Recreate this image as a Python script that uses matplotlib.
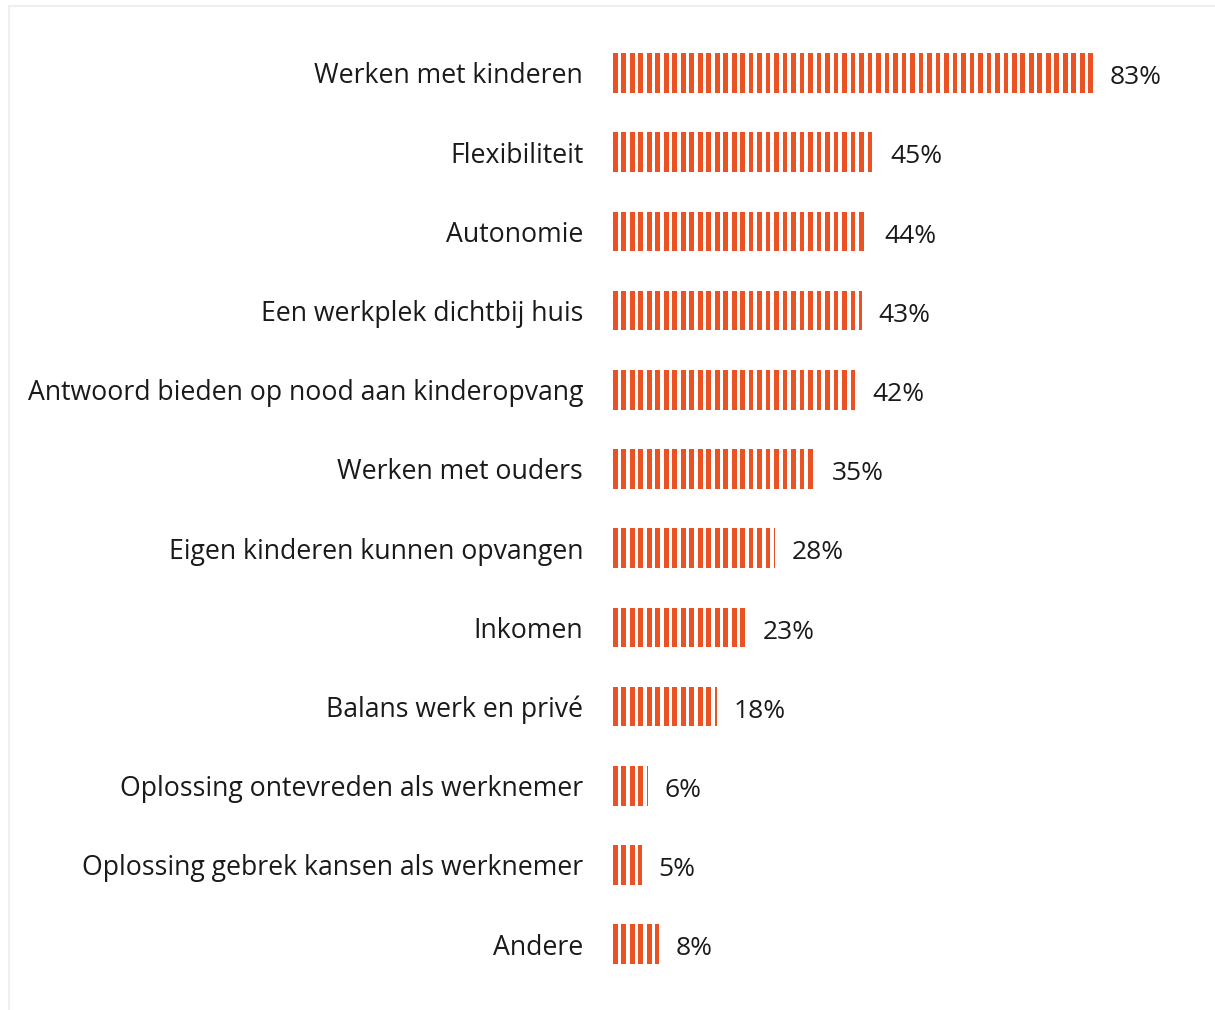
import matplotlib
matplotlib.use("Agg")
import matplotlib.pyplot as plt
import numpy as np
from matplotlib.patches import Rectangle

categories = [
    "Werken met kinderen",
    "Flexibiliteit",
    "Autonomie",
    "Een werkplek dichtbij huis",
    "Antwoord bieden op nood aan kinderopvang",
    "Werken met ouders",
    "Eigen kinderen kunnen opvangen",
    "Inkomen",
    "Balans werk en privé",
    "Oplossing ontevreden als werknemer",
    "Oplossing gebrek kansen als werknemer",
    "Andere",
]
values = [83, 45, 44, 43, 42, 35, 28, 23, 18, 6, 5, 8]

ORANGE = "#ea5223"
TEXT = "#1a1a1a"
STRIPE_STEP = 1.468   # stripe period, in % units
STRIPE_W = 0.807      # stripe width, in % units

plt.rcParams["font.family"] = ["Open Sans", "DejaVu Sans"]

fig = plt.figure(figsize=(12.15, 10.10), dpi=100)
# light frame around the chart area
fig.patches.append(Rectangle((9 / 1215, -0.01), 1.1, 1 - 6 / 1010 + 0.01,
                             transform=fig.transFigure, facecolor="white",
                             edgecolor="#eeeeee", linewidth=1.5, zorder=-1))

ax = fig.add_axes([613 / 1215, 0.026, 1 - 613 / 1215, 0.941])
ax.set_zorder(2)
ax.set_facecolor("none")

y = list(range(len(categories)))
for yi, v in zip(y, values):
    # striped bar: vertical stripes clipped at the value
    starts = np.arange(0, v, STRIPE_STEP)
    widths = np.minimum(STRIPE_W, v - starts)
    ax.barh([yi] * len(starts), widths, left=starts, height=0.5,
            color=ORANGE, linewidth=0)
    ax.text(v + 2.9, yi + 0.06, f"{v}%", va="center", ha="left",
            fontsize=19, color=TEXT)

ax.set_xlim(0, 104.1)
ax.set_ylim(len(categories) - 0.5, -0.5)
ax.set_yticks(y)
ax.set_yticklabels(categories, fontsize=19.2, color=TEXT)
ax.tick_params(axis="y", length=0, pad=21.5)
ax.set_xticks([])
for s in ax.spines.values():
    s.set_visible(False)

fig.savefig("out.png", dpi=100)
